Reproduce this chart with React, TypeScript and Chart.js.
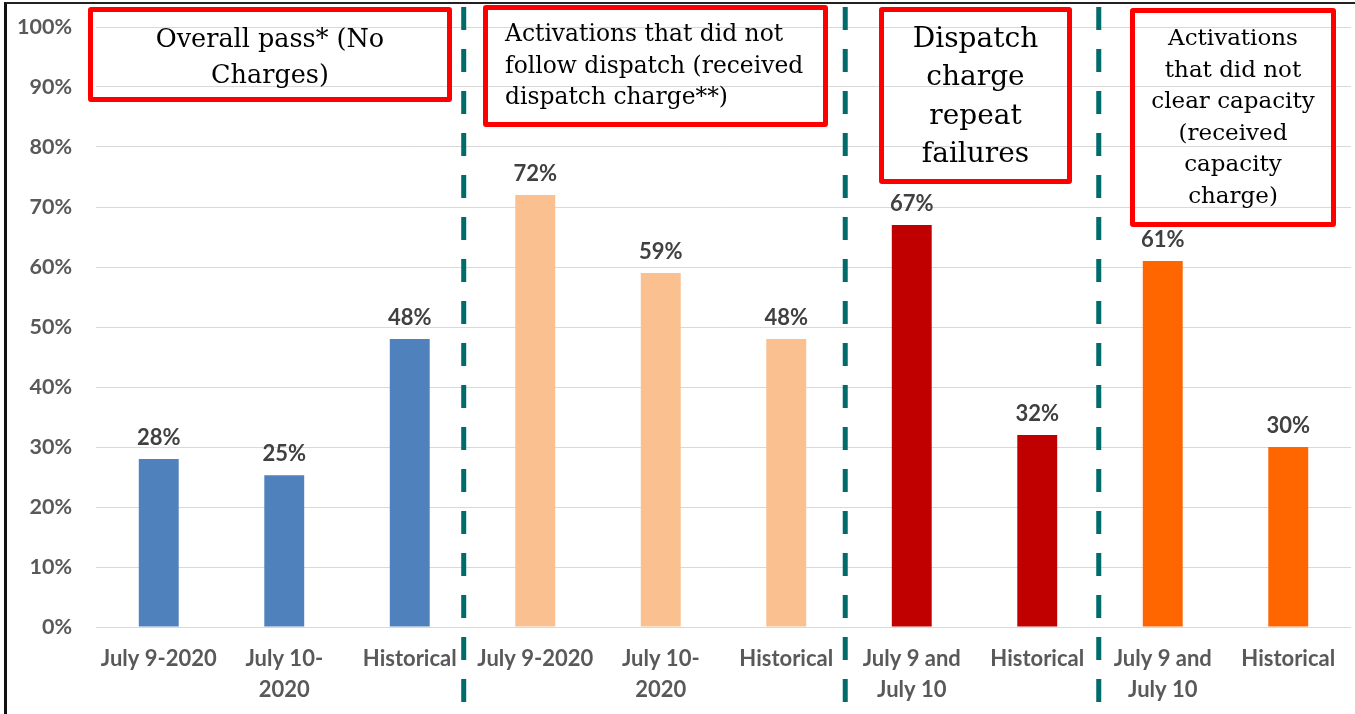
import React, { useEffect, useRef } from "react";
import { Chart, registerables } from "chart.js";

Chart.register(...registerables);

// ---- data ----
const categories: string[][] = [
  ["July 9-2020"],
  ["July 10-", "2020"],
  ["Historical"],
  ["July 9-2020"],
  ["July 10-", "2020"],
  ["Historical"],
  ["July 9 and", "July 10"],
  ["Historical"],
  ["July 9 and", "July 10"],
  ["Historical"],
];
const values: number[] = [28, 25.3, 48, 72, 59, 48, 67, 32, 61, 30];
const valueLabels: string[] = ["28%", "25%", "48%", "72%", "59%", "48%", "67%", "32%", "61%", "30%"];
const barColors: string[] = [
  "#4F81BD", "#4F81BD", "#4F81BD",
  "#FAC090", "#FAC090", "#FAC090",
  "#C00000", "#C00000",
  "#FF6600", "#FF6600",
];
const yMax = 100;
const yStep = 10;
// separators, as positions on the category axis (index units)
const separators: number[] = [2.43, 5.47, 7.49];

const box1Lines = ["Overall pass* (No", "Charges)"];
const box2Lines = ["Activations that did not", "follow dispatch (received", "dispatch charge**)"];
const box3Lines = ["Dispatch", "charge", "repeat", "failures"];
const box4Lines = ["Activations", "that did not", "clear capacity", "(received", "capacity", "charge)"];

const TICK_FONT = "Lato, 'Open Sans', sans-serif";
const SERIF = "'DejaVu Serif', 'Liberation Serif', serif";

const valueLabelPlugin = {
  id: "valueLabels",
  afterDatasetsDraw(chart: any) {
    const ctx = chart.ctx;
    const meta = chart.getDatasetMeta(0);
    ctx.save();
    ctx.font = `bold 22px ${TICK_FONT}`;
    ctx.fillStyle = "#404040";
    ctx.textAlign = "center";
    ctx.textBaseline = "alphabetic";
    meta.data.forEach((bar: any, i: number) => {
      ctx.fillText(valueLabels[i], bar.x, bar.y - 14);
    });
    ctx.restore();
  },
};

const separatorPlugin = {
  id: "separators",
  afterDraw(chart: any) {
    const ctx = chart.ctx;
    const xScale = chart.scales.x;
    ctx.save();
    ctx.strokeStyle = "#006B6B";
    ctx.lineWidth = 5;
    ctx.setLineDash([23, 19]);
    separators.forEach((s) => {
      const x = xScale.getPixelForValue(s);
      ctx.beginPath();
      ctx.moveTo(x, 7);
      ctx.lineTo(x, chart.height);
      ctx.stroke();
    });
    ctx.restore();
  },
};

type BoxProps = {
  left: number; top: number; width: number; height: number;
  lines: string[]; fontSize: number; lineHeight: number;
  textTop: number; textLeft?: number; align: "center" | "left";
};

function Box(p: BoxProps) {
  return (
    <>
      <div
        style={{
          position: "absolute",
          left: p.left,
          top: p.top,
          width: p.width,
          height: p.height,
          boxSizing: "border-box",
          border: "5px solid #FF0000",
          borderRadius: 3,
        }}
      />
      <div
        style={{
          position: "absolute",
          left: p.align === "left" ? p.textLeft : p.left,
          top: p.textTop,
          width: p.align === "left" ? undefined : p.width,
          textAlign: p.align,
          fontFamily: SERIF,
          fontSize: p.fontSize,
          lineHeight: `${p.lineHeight}px`,
          color: "#000",
          whiteSpace: "nowrap",
        }}
      >
        {p.lines.map((l, i) => (
          <div key={i}>{l}</div>
        ))}
      </div>
    </>
  );
}

export default function App() {
  const canvasRef = useRef<HTMLCanvasElement | null>(null);

  useEffect(() => {
    document.body.style.margin = "0";
    const canvas = canvasRef.current;
    if (!canvas) return;
    const chart = new Chart(canvas, {
      type: "bar",
      data: {
        labels: categories,
        datasets: [
          {
            data: values,
            backgroundColor: barColors,
            borderWidth: 0,
            barPercentage: 0.318,
            categoryPercentage: 1,
          },
        ],
      },
      options: {
        responsive: false,
        animation: false,
        layout: { padding: { left: 0, top: 27, right: 4, bottom: 0 } },
        plugins: {
          legend: { display: false },
          tooltip: { enabled: false },
          title: { display: false },
        },
        scales: {
          x: {
            grid: { display: false, drawTicks: false },
            border: { display: false },
            ticks: {
              color: "#595959",
              font: { family: TICK_FONT, size: 22, weight: "bold", lineHeight: 1.41 },
              padding: 16.5,
              maxRotation: 0,
              autoSkip: false,
            },
            afterFit(scale: any) {
              scale.height = 87;
            },
          },
          y: {
            min: 0,
            max: yMax,
            grid: { color: "#D9D9D9", lineWidth: 1, drawTicks: false },
            border: { display: false },
            ticks: {
              stepSize: yStep,
              color: "#595959",
              font: { family: TICK_FONT, size: 21.5, weight: "bold" },
              padding: 24,
              callback: (v: any) => `${v}%`,
            },
            afterFit(scale: any) {
              scale.width = 96;
              scale.paddingTop = 0;
              scale.paddingBottom = 0;
            },
          },
        },
      },
      plugins: [valueLabelPlugin, separatorPlugin],
    });
    return () => chart.destroy();
  }, []);

  return (
    <div
      style={{
        position: "absolute",
        left: 0,
        top: 0,
        width: 1355,
        height: 714,
        overflow: "hidden",
        background: "#fff",
      }}
    >
      <canvas ref={canvasRef} width={1355} height={714} style={{ position: "absolute", left: 0, top: 0 }} />
      <div
        style={{
          position: "absolute",
          left: 4,
          top: 2,
          width: 1351,
          height: 712,
          boxSizing: "border-box",
          borderLeft: "3px solid #111",
          borderTop: "2px solid #222",
          pointerEvents: "none",
        }}
      />
      <Box left={88} top={7} width={364} height={95} lines={box1Lines} fontSize={25.5} lineHeight={36} textTop={20} align="center" />
      <Box left={483} top={5} width={345} height={122} lines={box2Lines} fontSize={23.4} lineHeight={31.5} textTop={18} textLeft={505} align="left" />
      <Box left={879} top={7} width={193} height={177} lines={box3Lines} fontSize={28} lineHeight={38.3} textTop={19} align="center" />
      <Box left={1130} top={8} width={206} height={219} lines={box4Lines} fontSize={23} lineHeight={31.6} textTop={22} align="center" />
    </div>
  );
}
